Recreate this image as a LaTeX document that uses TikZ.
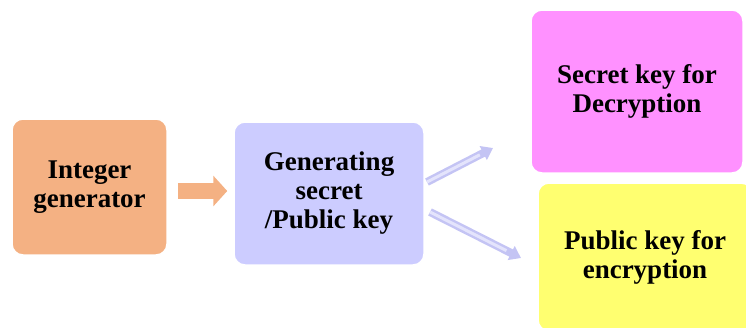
\documentclass[tikz,border=0pt]{standalone}
\usepackage{fontspec}
\setmainfont{Liberation Serif}
\usetikzlibrary{arrows.meta,calc}
\definecolor{orangefill}{HTML}{F4B183}
\definecolor{lavfill}{HTML}{CCCCFF}
\definecolor{pinkfill}{HTML}{FF91FF}
\definecolor{yellowfill}{HTML}{FFFF70}
\definecolor{lavarrow}{HTML}{C4C4F4}
\definecolor{lavlight}{HTML}{E4E4FC}
\tikzset{
  box/.style={rounded corners=11pt, draw=white, line width=1.5pt, align=center,
    font=\fontsize{27}{29}\selectfont\bfseries, inner sep=0pt},
  outerarrow/.style={line width=8pt, lavarrow, -{Triangle[length=11pt,width=15pt]}},
  innerarrow/.style={line width=3pt, lavlight},
}
\begin{document}
\begin{tikzpicture}[x=1pt,y=-1pt]
\useasboundingbox (0,0) rectangle (746,327);
\begin{scope}
\clip (0,0) rectangle (746,327);
\node[box, fill=orangefill, minimum width=155pt, minimum height=136pt] (int) at (89.5,187) {Integer\\generator};
\node[box, fill=lavfill, minimum width=190pt, minimum height=143pt] (gen) at (329,193.5) {Generating\\secret\\/Public key};
\node[box, fill=pinkfill, minimum width=212pt, minimum height=163pt] (sec) at (637,91.5) {Secret key for\\Decryption};
\node[box, fill=yellowfill, minimum width=214pt, minimum height=148pt] (pub) at (645,257) {Public key for\\encryption};
\end{scope}
\draw[line width=16pt, orangefill, -{Triangle[length=14pt,width=30pt]}]
  ([xshift=10pt,yshift=-4pt]int.east) -- ([xshift=-6pt,yshift=2.5pt]gen.west);
\coordinate (u1) at (427,182);
\coordinate (u2) at (493,148);
\coordinate (l1) at (430,212);
\coordinate (l2) at (521,258);
\draw[outerarrow] (u1) -- (u2);
\draw[innerarrow] (u1) -- ($(u1)!0.8!(u2)$);
\draw[outerarrow] (l1) -- (l2);
\draw[innerarrow] (l1) -- ($(l1)!0.84!(l2)$);
\end{tikzpicture}
\end{document}
